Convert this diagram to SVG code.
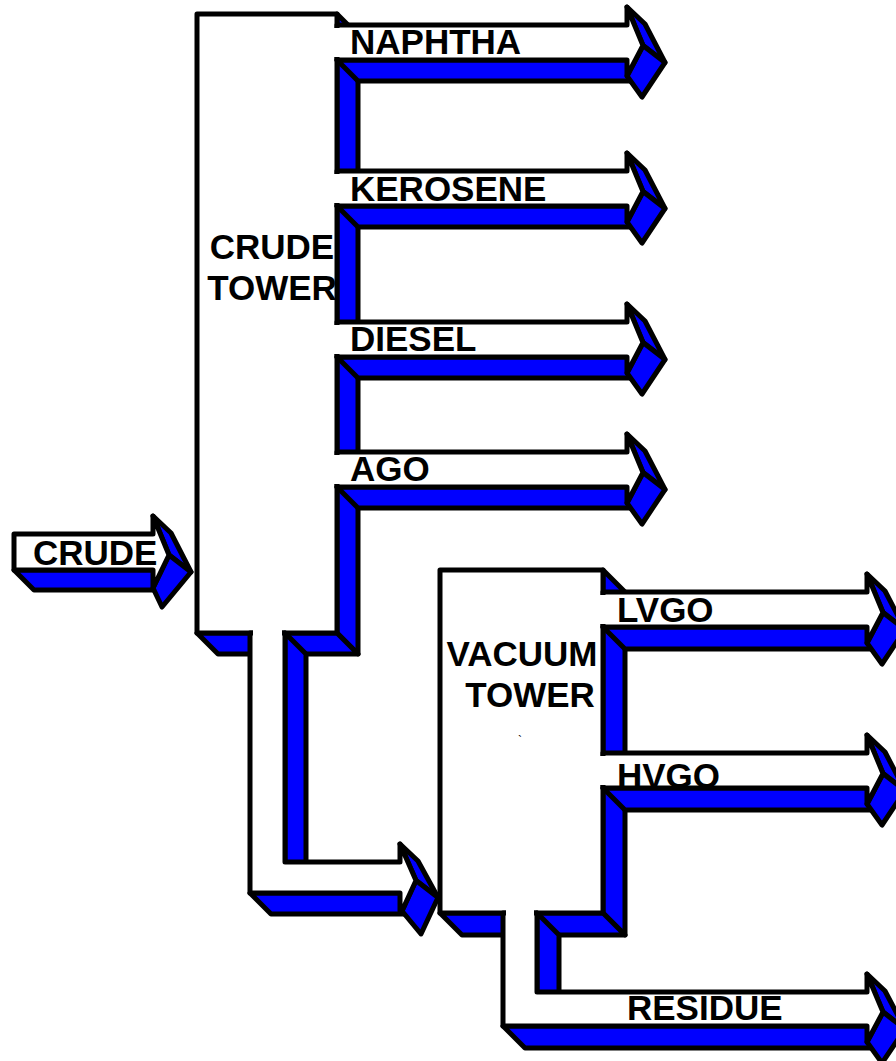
<svg xmlns="http://www.w3.org/2000/svg" width="896" height="1061" viewBox="0 0 896 1061">
<style>
.w{fill:#fff;stroke:#000;stroke-width:5;stroke-linejoin:round}
.b{fill:#00f;stroke:#000;stroke-width:5;stroke-linejoin:round}
.c{fill:#fff;stroke:none}
.t{font-family:"Liberation Sans",Arial,sans-serif;font-weight:bold;font-size:35px;fill:#000}
.m{text-anchor:middle}
</style>
<rect width="896" height="1061" fill="#fff"/>
<g id="crude-tower">
<polygon class="b" points="337,14 358,35 358,654 337,633"/>
<polygon class="b" points="197,633 337,633 358,654 218,654"/>
<rect class="w" x="197" y="14" width="140" height="619"/>
<text class="t m" x="272" y="259">CRUDE</text>
<text class="t m" x="272" y="300">TOWER</text>
</g>
<g id="vacuum-tower">
<polygon class="b" points="603,570 625,592 625,935 603,913"/>
<polygon class="b" points="440,913 603,913 625,935 462,935"/>
<rect class="w" x="440" y="570" width="163" height="343"/>
<text class="t m" x="522" y="666">VACUUM</text>
<text class="t m" x="530" y="707">TOWER</text>
<text x="518" y="745" style="font-family:'Liberation Sans',Arial,sans-serif;font-size:12px">`</text>
</g>
<g id="connectors">
<g id="crude-in">
<polygon class="b" points="14,570 153,570 173,590 34,590"/>
<polygon class="b" points="153,516 171,533 191,572 169,555"/>
<polygon class="b" points="169,555 191,572 162,607 153,588"/>
<path class="w" d="M14,534 H153 V516 L169,555 L153,588 V570 H14 Z"/>
</g>
<g id="naphtha">
<polygon class="b" points="337,60 627,60 648,81 358,81"/>
<polygon class="b" points="627,7 645,24 665,62.5 643,45.5"/>
<polygon class="b" points="643,45.5 665,62.5 642,97 627,76"/>
<path class="w" d="M337,25 H627 V7 L643,45.5 L627,76 V60 H337 Z"/>
<rect class="c" x="332" y="28" width="10" height="29"/>
</g>
<g id="kerosene">
<polygon class="b" points="337,206 627,206 648,227 358,227"/>
<polygon class="b" points="627,153 645,170 665,208.5 643,191.5"/>
<polygon class="b" points="643,191.5 665,208.5 642,243 627,222"/>
<path class="w" d="M337,171 H627 V153 L643,191.5 L627,222 V206 H337 Z"/>
<rect class="c" x="332" y="174" width="10" height="29"/>
</g>
<g id="diesel">
<polygon class="b" points="337,357 627,357 648,378 358,378"/>
<polygon class="b" points="627,304 645,321 665,359.5 643,342.5"/>
<polygon class="b" points="643,342.5 665,359.5 642,394 627,373"/>
<path class="w" d="M337,322 H627 V304 L643,342.5 L627,373 V357 H337 Z"/>
<rect class="c" x="332" y="325" width="10" height="29"/>
</g>
<g id="ago">
<polygon class="b" points="337,487 627,487 648,508 358,508"/>
<polygon class="b" points="627,434 645,451 665,489.5 643,472.5"/>
<polygon class="b" points="643,472.5 665,489.5 642,524 627,503"/>
<path class="w" d="M337,452 H627 V434 L643,472.5 L627,503 V487 H337 Z"/>
<rect class="c" x="332" y="455" width="10" height="29"/>
</g>
<g id="crude-to-vacuum">
<polygon class="b" points="285,633 306,654 306,864 285,864"/>
<polygon class="b" points="250,893 400,893 421,914 271,914"/>
<polygon class="b" points="400,844 418,861 438,897.5 416,880.5"/>
<polygon class="b" points="416,880.5 438,897.5 421,934 402,911"/>
<path class="w" d="M250,633 H285 V862 H400 V844 L416,880.5 L402,911 L400,911 V893 H250 Z"/>
<rect class="c" x="253" y="628" width="29" height="10"/>
</g>
<g id="lvgo">
<polygon class="b" points="603,627 867,627 889,649 625,649"/>
<polygon class="b" points="867,574 885,591 905,629.5 883,612.5"/>
<polygon class="b" points="883,612.5 905,629.5 882,664 867,643"/>
<path class="w" d="M603,592 H867 V574 L883,612.5 L867,643 V627 H603 Z"/>
<rect class="c" x="598" y="595" width="10" height="29"/>
</g>
<g id="hvgo">
<polygon class="b" points="603,788 867,788 889,810 625,810"/>
<polygon class="b" points="867,735 885,752 905,790.5 883,773.5"/>
<polygon class="b" points="883,773.5 905,790.5 882,825 867,804"/>
<path class="w" d="M603,753 H867 V735 L883,773.5 L867,804 V788 H603 Z"/>
<rect class="c" x="598" y="756" width="10" height="29"/>
</g>
<g id="residue">
<polygon class="b" points="537,913 559,935 559,994 537,994"/>
<polygon class="b" points="503,1026 867,1026 889,1048 525,1048"/>
<polygon class="b" points="867,974 885,991 905,1029 883,1012"/>
<polygon class="b" points="883,1012 905,1029 882,1063 867,1042"/>
<path class="w" d="M503,913 H537 V992 H867 V974 L883,1012 L867,1042 V1026 H503 Z"/>
<rect class="c" x="506" y="908" width="28" height="10"/>
</g>
</g>
<g id="labels">
<text class="t" x="33" y="565">CRUDE</text>
<text class="t" x="350" y="54">NAPHTHA</text>
<text class="t" x="350" y="201">KEROSENE</text>
<text class="t" x="350" y="351">DIESEL</text>
<text class="t" x="350" y="481">AGO</text>
<text class="t" x="617" y="622">LVGO</text>
<text class="t" x="617" y="788">HVGO</text>
<text class="t" x="627" y="1020">RESIDUE</text>
</g>
</svg>
